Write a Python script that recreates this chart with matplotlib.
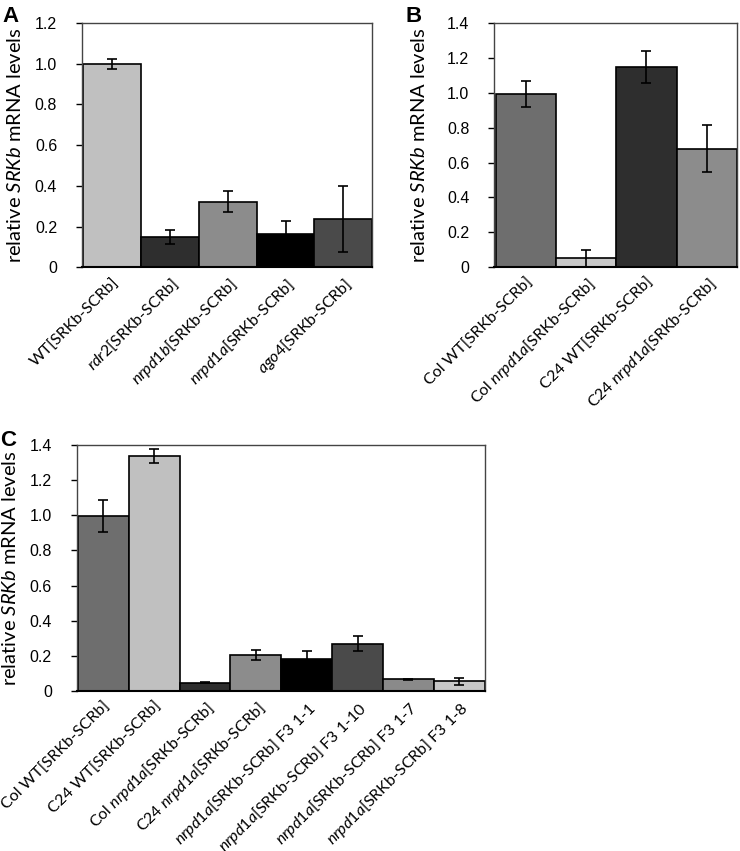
import numpy as np
import matplotlib
matplotlib.use("Agg")
import matplotlib.pyplot as plt

plt.rcParams['font.family'] = ['Lato', 'DejaVu Sans']
plt.rcParams['mathtext.fontset'] = 'custom'
plt.rcParams['mathtext.rm'] = 'Lato'
plt.rcParams['mathtext.it'] = 'Lato:italic'

# panel A
a_labels = ["WT[SRKb-SCRb]", r"$\mathit{rdr2}$[SRKb-SCRb]", r"$\mathit{nrpd1b}$[SRKb-SCRb]",
            r"$\mathit{nrpd1a}$[SRKb-SCRb]", r"$\mathit{ago4}$[SRKb-SCRb]"]
a_vals = [1.0, 0.147, 0.322, 0.165, 0.236]
a_err = [0.025, 0.034, 0.053, 0.063, 0.163]
a_cols = ["#c0c0c0", "#2e2e2e", "#8c8c8c", "#000000", "#4a4a4a"]

# panel B
b_labels = ["Col WT[SRKb-SCRb]", r"Col $\mathit{nrpd1a}$[SRKb-SCRb]",
            "C24 WT[SRKb-SCRb]", r"C24 $\mathit{nrpd1a}$[SRKb-SCRb]"]
b_vals = [0.995, 0.05, 1.147, 0.68]
b_err = [0.075, 0.046, 0.092, 0.135]
b_cols = ["#6e6e6e", "#c8c8c8", "#2e2e2e", "#8c8c8c"]

# panel C
c_labels = ["Col WT[SRKb-SCRb]", "C24 WT[SRKb-SCRb]", r"Col $\mathit{nrpd1a}$[SRKb-SCRb]",
            r"C24 $\mathit{nrpd1a}$[SRKb-SCRb]", r"$\mathit{nrpd1a}$[SRKb-SCRb] F3 1-1",
            r"$\mathit{nrpd1a}$[SRKb-SCRb] F3 1-10", r"$\mathit{nrpd1a}$[SRKb-SCRb] F3 1-7",
            r"$\mathit{nrpd1a}$[SRKb-SCRb] F3 1-8"]
c_vals = [0.995, 1.338, 0.047, 0.206, 0.18, 0.27, 0.066, 0.055]
c_err = [0.092, 0.042, 0.004, 0.03, 0.05, 0.043, 0.005, 0.018]
c_cols = ["#6e6e6e", "#c0c0c0", "#2e2e2e", "#8c8c8c", "#000000", "#4a4a4a", "#8a8a8a", "#c8c8c8"]

fig = plt.figure(figsize=(7.4, 8.51), dpi=100)
axA = fig.add_axes([0.111, 0.686, 0.392, 0.287])
axB = fig.add_axes([0.668, 0.686, 0.328, 0.287])
axC = fig.add_axes([0.104, 0.188, 0.551, 0.289])


def panel(ax, labels, vals, err, cols, ymax, letter, lx, ly, ylx):
    x = np.arange(len(vals))
    ax.bar(x, vals, width=1.0, color=cols, edgecolor="black", linewidth=1.2, zorder=2)
    ax.errorbar(x, vals, yerr=err, fmt="none", ecolor="black", elinewidth=1.2,
                capsize=3.5, capthick=1.2, zorder=3)
    ax.set_xlim(-0.52, len(vals) - 0.5)
    ax.set_ylim(0, ymax)
    ticks = np.arange(0, ymax + 0.01, 0.2)
    ax.set_yticks(ticks)
    ax.set_yticklabels(["0"] + ["%.1f" % t for t in ticks[1:]],
                       fontfamily="Liberation Sans", fontsize=11.5)
    ax.tick_params(axis="y", direction="out", length=4, width=1, pad=14)
    ax.set_xticks(x)
    ax.set_xticklabels(labels, rotation=45, ha="right", rotation_mode="anchor", fontsize=11.5)
    ax.tick_params(axis="x", length=0, pad=6)
    for s in ax.spines.values():
        s.set_color("#444444")
        s.set_linewidth(1.0)
    ax.spines["bottom"].set_color("black")
    ax.spines["bottom"].set_linewidth(1.5)
    ax.set_ylabel(r"relative $\mathit{SRKb}$ mRNA levels", fontsize=14.5)
    ax.yaxis.set_label_coords(ylx, 0.5)
    fig.text(lx, ly, letter, fontsize=16, fontweight="bold", fontfamily="Liberation Sans",
             ha="left", va="top")


panel(axA, a_labels, a_vals, a_err, a_cols, 1.2, "A", 0.003, 0.993, -0.2)
panel(axB, b_labels, b_vals, b_err, b_cols, 1.4, "B", 0.548, 0.993, -0.272)
panel(axC, c_labels, c_vals, c_err, c_cols, 1.4, "C", 0.0, 0.495, -0.142)

fig.savefig("out.png", dpi=100)
